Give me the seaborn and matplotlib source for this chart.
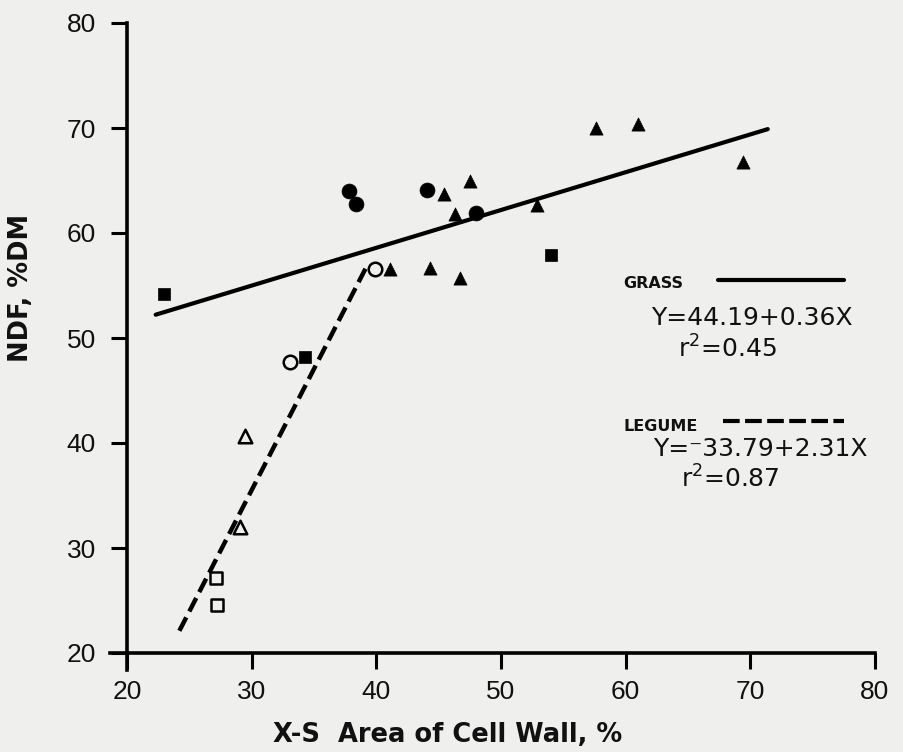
import numpy as np
import pandas as pd
import matplotlib
matplotlib.use("Agg")
import matplotlib.pyplot as plt
import seaborn as sns

# ---- data ----
grass_sq_x = [23.0, 34.3, 54.0]
grass_sq_y = [54.2, 48.2, 57.9]
grass_ci_x = [37.8, 38.4, 44.1, 48.0]
grass_ci_y = [64.0, 62.8, 64.1, 61.9]
grass_tr_x = [41.1, 44.3, 45.4, 46.3, 46.7, 47.5, 52.9, 57.6, 61.0, 69.4]
grass_tr_y = [56.6, 56.7, 63.7, 61.8, 55.7, 65.0, 62.7, 70.0, 70.4, 66.8]
leg_ci_x = [33.1, 39.9]
leg_ci_y = [47.7, 56.6]
leg_tr_x = [29.5, 29.1]
leg_tr_y = [40.7, 32.0]
leg_sq_x = [27.1, 27.2]
leg_sq_y = [27.1, 24.6]

grass_coef = (44.19, 0.36)
legume_coef = (-33.79, 2.31)
grass_xrange = [22.3, 71.4]
legume_xrange = [24.2, 39.3]

x_ticks = [20, 30, 40, 50, 60, 70, 80]
y_ticks = [20, 30, 40, 50, 60, 70, 80]

BG = "#efefed"
sns.set_style("ticks")
plt.rcParams["font.family"] = ["Liberation Sans", "DejaVu Sans"]

fig = plt.figure(figsize=(9.04, 7.52), dpi=100, facecolor=BG)
ax = fig.add_axes([127 / 904, 1 - 653 / 752, (875 - 127) / 904, (653 - 23) / 752])
ax.set_facecolor(BG)

# regression lines
gx = np.array(grass_xrange)
sns.lineplot(x=gx, y=grass_coef[0] + grass_coef[1] * gx, ax=ax, color="black",
             lw=3.0, solid_capstyle="round", zorder=2)
lx = np.array(legume_xrange)
sns.lineplot(x=lx, y=legume_coef[0] + legume_coef[1] * lx, ax=ax, color="black",
             lw=3.2, linestyle=(0, (3.4, 1.5)), zorder=2)

# points
def pts(x, y, marker, filled, s):
    df = pd.DataFrame({"x": x, "y": y})
    if filled:
        sns.scatterplot(data=df, x="x", y="y", marker=marker, s=s, color="black",
                        edgecolor="black", linewidth=0.5, ax=ax, zorder=3)
    else:
        sns.scatterplot(data=df, x="x", y="y", marker=marker, s=s, facecolor=BG,
                        edgecolor="black", linewidth=1.8, ax=ax, zorder=3)

pts(grass_sq_x, grass_sq_y, "s", True, 72)
pts(grass_ci_x, grass_ci_y, "o", True, 115)
pts(grass_tr_x, grass_tr_y, "^", True, 90)
pts(leg_ci_x, leg_ci_y, "o", False, 95)
pts(leg_tr_x, leg_tr_y, "^", False, 95)
pts(leg_sq_x, leg_sq_y, "s", False, 75)

ax.set_xlim(20, 80)
ax.set_ylim(20, 80)
ax.set_xticks(x_ticks)
ax.set_yticks(y_ticks)
ax.set_xticklabels([str(v) for v in x_ticks])
ax.set_yticklabels([str(v) for v in y_ticks])
for s in ["top", "right"]:
    ax.spines[s].set_visible(False)
for s in ["left", "bottom"]:
    ax.spines[s].set_linewidth(2.6)
    ax.spines[s].set_color("black")
ax.spines["bottom"].set_bounds(18.6, 80)
ax.spines["left"].set_bounds(18.4, 80)
ax.tick_params(axis="both", direction="out", length=11.5, width=2.2, color="black",
               labelsize=19, labelcolor="#111111")
ax.tick_params(axis="x", pad=8)
ax.tick_params(axis="y", pad=11)

ax.set_xlabel("X-S  Area of Cell Wall, %", fontsize=18.5, fontweight="bold",
              family=["DejaVu Sans"], color="#111111")
ax.set_ylabel("NDF, %DM", fontsize=18.5, fontweight="bold",
              family=["DejaVu Sans"], color="#111111")
ax.xaxis.label.set_va("center")
ax.yaxis.label.set_va("center")
ax.xaxis.set_label_coords(0.429, -0.13)
ax.yaxis.set_label_coords(-0.142, 0.579)

# legend-style annotation
tc = "#111111"
ax.text(59.8, 55.2, "GRASS", fontsize=11.5, fontweight="bold", family=["DejaVu Sans"],
        va="center", ha="left", color=tc)
ax.plot([67.4, 77.5], [55.5, 55.5], color="black", lw=3.0, clip_on=False)
ax.text(62.0, 51.9, "Y=44.19+0.36X", fontsize=18, va="center", ha="left", color=tc,
        family=["DejaVu Sans"])
ax.text(64.2, 49.0, "r$^2$=0.45", fontsize=18, va="center", ha="left", color=tc,
        family=["DejaVu Sans"])
ax.text(59.8, 41.6, "LEGUME", fontsize=11.5, fontweight="bold", family=["DejaVu Sans"],
        va="center", ha="left", color=tc)
ax.plot([67.8, 77.5], [42.1, 42.1], color="black", lw=3.0,
        linestyle=(0, (4.0, 1.3)), clip_on=False)
ax.text(62.2, 39.4, "Y=\u207b33.79+2.31X", fontsize=18, va="center", ha="left", color=tc,
        family=["DejaVu Sans"])
ax.text(64.4, 36.6, "r$^2$=0.87", fontsize=18, va="center", ha="left", color=tc,
        family=["DejaVu Sans"])

fig.savefig("out.png", dpi=100, facecolor=BG)
